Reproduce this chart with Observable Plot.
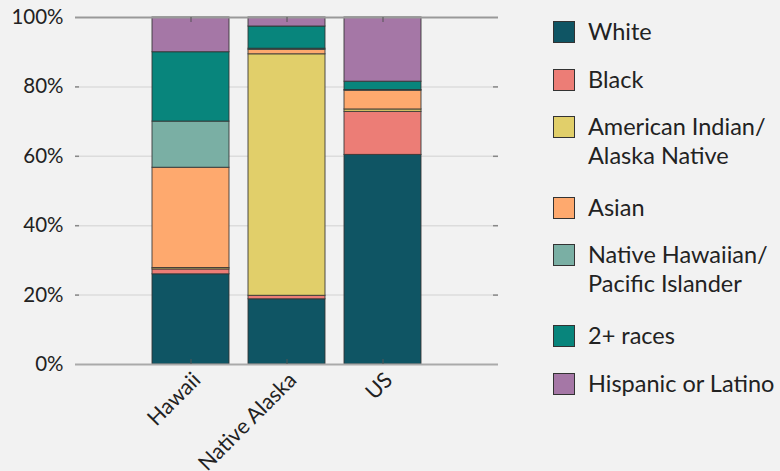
<!DOCTYPE html>
<html>
<head>
<meta charset="utf-8">
<script src="https://cdn.jsdelivr.net/npm/d3@7"></script>
<script src="https://cdn.jsdelivr.net/npm/@observablehq/plot@0.6"></script>
<style>
  html, body { margin: 0; padding: 0; background: #f2f2f2; }
  #wrap { position: relative; width: 780px; height: 471px; font-family: Lato, "Noto Sans", sans-serif; color: #222; overflow: hidden; }
  #legend { position: absolute; left: 553px; top: 16px; font-size: 23.5px; white-space: nowrap; }
  .item { display: flex; align-items: flex-start; margin-bottom: 17px; line-height: 31px; }
  .item.two { line-height: 29px; margin-bottom: 22px; }
  .sw { width: 20px; height: 20px; border: 1.2px solid #333; margin-top: 4.5px; margin-right: 13px; flex: none; }
  .item.two .sw { margin-top: 3.5px; }
</style>
</head>
<body>
<div id="wrap"><div id="chart"></div><div id="legend"></div></div>
<script>
const groups = ["Hawaii", "Native Alaska", "US"];
const races = ["White", "Black", "American Indian/\nAlaska Native", "Asian", "Native Hawaiian/\nPacific Islander", "2+ races", "Hispanic or Latino"];
const colors = ["#0f5564", "#ec7d76", "#e1cf6a", "#fea96e", "#7aafa4", "#08857c", "#a577a6"];
const hawaii = [26.0, 1.4, 0.4, 28.9, 13.3, 20.0, 10.0];
const nativeAlaska = [18.8, 1.0, 69.6, 1.3, 0.3, 6.4, 2.6];
const us = [60.4, 12.4, 0.7, 5.4, 0.2, 2.4, 18.5];
const yTicks = [0, 20, 40, 60, 80, 100];

const series = [hawaii, nativeAlaska, us];
const data = groups.flatMap((g, gi) => races.map((r, ri) => ({group: g, race: r, value: series[gi][ri]})));

const chart = Plot.plot({
  width: 780,
  height: 471,
  marginLeft: 75,
  marginRight: 282,
  marginTop: 17,
  marginBottom: 107,
  style: {background: "#f2f2f2", fontFamily: "Lato, 'Noto Sans', sans-serif", fontSize: "20px", color: "#222"},
  x: {domain: groups, paddingInner: 0.2, paddingOuter: 0.79, label: null},
  y: {domain: [0, 100], label: null},
  color: {domain: races, range: colors},
  marks: [
    Plot.ruleY(yTicks.slice(1, -1), {stroke: "#dcdcdc", strokeWidth: 1.5}),
    Plot.barY(data, {x: "group", y: "value", fill: "race", stroke: "#333", strokeWidth: 1, strokeOpacity: 0.85}),
    Plot.ruleX([0], {frameAnchor: "left", stroke: "#999", strokeWidth: 2}),
    Plot.ruleY([100], {stroke: "#999", strokeWidth: 2}),
    Plot.ruleY([0], {stroke: "#aaa", strokeWidth: 2}),
    Plot.ruleX([0], {frameAnchor: "right", stroke: "#d4d4d4", strokeWidth: 2}),
    Plot.tickY(yTicks.slice(1, -1), {y: d => d, insetRight: 419, stroke: "#888", strokeWidth: 1.5}),
    Plot.tickY(yTicks.slice(1, -1), {y: d => d, insetLeft: 418, stroke: "#888", strokeWidth: 1.5}),
    Plot.tickX(groups, {x: d => d, insetTop: 342, stroke: "#555", strokeWidth: 1}),
    Plot.tickX(groups, {x: d => d, insetBottom: 342, stroke: "#555", strokeWidth: 1}),
    Plot.axisY({ticks: yTicks, tickSize: 0, tickPadding: 12, tickFormat: d => d + "%", fontSize: 20.5}),
    Plot.axisX({tickSize: 0, tickRotate: -45, tickPadding: 12, fontSize: 21.5, dx: 6})
  ]
});
document.getElementById("chart").appendChild(chart);

const legend = document.getElementById("legend");
races.forEach((r, i) => {
  const lines = r.split("\n");
  const item = document.createElement("div");
  item.className = lines.length > 1 ? "item two" : "item";
  const sw = document.createElement("div");
  sw.className = "sw";
  sw.style.background = colors[i];
  const label = document.createElement("div");
  label.innerHTML = lines.join("<br>");
  item.appendChild(sw);
  item.appendChild(label);
  legend.appendChild(item);
});
</script>
</body>
</html>
